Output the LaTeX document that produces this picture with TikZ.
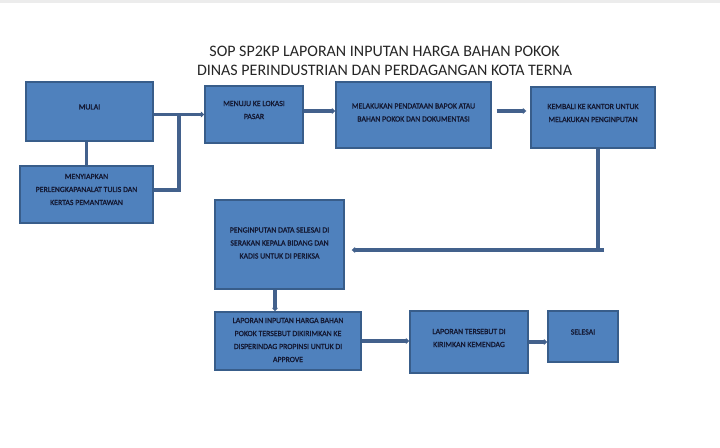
\documentclass[tikz,border=0pt]{standalone}
\usepackage{fontspec}
\setmainfont{Carlito}
\newfontfamily\boxfont[FakeBold=1.3]{Carlito}
\usetikzlibrary{arrows.meta}
\definecolor{boxfill}{HTML}{4F81BD}
\definecolor{boxline}{HTML}{385D8A}
\definecolor{conn}{HTML}{43618C}
\definecolor{txtc}{HTML}{141933}
\definecolor{topband}{HTML}{ECECEC}
\tikzset{
  box/.style={draw=boxline, line width=1.4pt, fill=boxfill, rectangle, inner sep=0pt},
  txt/.style={text=txtc, font=\boxfont\fontsize{7.8}{13}\selectfont, align=center, inner sep=0pt},
  ttl/.style={text=black!85, font=\fontsize{16}{19}\selectfont, inner sep=0pt},
  conline/.style={draw=conn, line width=3.2pt},
  conarrow/.style={conline, -{Triangle[length=3.5pt,width=6pt]}},
}
\begin{document}
\begin{tikzpicture}[x=1pt,y=-1pt]
\useasboundingbox (0,0) rectangle (720,447);
\fill[white] (0,0) rectangle (720,447);
\fill[topband] (0,0) rectangle (720,2.5);

% title
\node[ttl] (t1) at (384.5,51) {SOP SP2KP LAPORAN INPUTAN HARGA BAHAN POKOK};
\node[ttl] (t2) at (384.5,70) {DINAS PERINDUSTRIAN DAN PERDAGANGAN KOTA TERNA};

% boxes
\node[box, minimum width=127pt, minimum height=59pt] (mulai) at (89.5,111.5) {};
\node[box, minimum width=133pt, minimum height=57pt] (siap) at (86.5,194.5) {};
\node[box, minimum width=98pt, minimum height=57pt] (menuju) at (254,114.5) {};
\node[box, minimum width=155pt, minimum height=66pt] (data) at (413.5,115) {};
\node[box, minimum width=124pt, minimum height=61pt] (kembali) at (593,117.5) {};
\node[box, minimum width=129pt, minimum height=89pt] (input) at (279.5,244.5) {};
\node[box, minimum width=146pt, minimum height=58pt] (lap1) at (288,341) {};
\node[box, minimum width=118pt, minimum height=62pt] (lap2) at (469,342) {};
\node[box, minimum width=70pt, minimum height=51pt] (selesai) at (583,336.5) {};

% texts
\node[txt] (tmulai) at (89.5,107) {MULAI};
\node[txt] (tsiap) at (86.5,189.5) {MENYIAPKAN\\PERLENGKAPANALAT TULIS DAN\\KERTAS PEMANTAWAN};
\node[txt] (tmenuju) at (254,110) {MENUJU KE LOKASI\\PASAR};
\node[txt] (tdata) at (413.5,112.5) {MELAKUKAN PENDATAAN BAPOK ATAU\\BAHAN POKOK DAN DOKUMENTASI};
\node[txt] (tkembali) at (593,113) {KEMBALI KE KANTOR UNTUK\\MELAKUKAN PENGINPUTAN};
\node[txt] (tinput) at (279.5,243) {PENGINPUTAN DATA SELESAI DI\\SERAKAN KEPALA BIDANG DAN\\KADIS UNTUK DI PERIKSA};
\node[txt] (tlap1) at (288,340) {LAPORAN INPUTAN HARGA BAHAN\\POKOK TERSEBUT DIKIRIMKAN KE\\DISPERINDAG PROPINSI UNTUK DI\\APPROVE};
\node[txt] (tlap2) at (469,338) {LAPORAN TERSEBUT DI\\KIRIMKAN KEMENDAG};
\node[txt] (tselesai) at (583,332) {SELESAI};

% connectors
\coordinate (j) at (179,115);
\coordinate (jb) at (179,190);
\coordinate (k) at (598,250);
\draw[conline] (mulai.south -| siap.north) -- (siap.north);
\draw[conarrow] (mulai.east |- menuju.west) -- (menuju.west);
\draw[conline] ([yshift=4.5pt]siap.east) -- (jb) -- (j);
\draw[conarrow] ([yshift=3.5pt]menuju.east) -- ([yshift=3.5pt]menuju.east -| data.west);
\draw[conarrow, shorten <=5pt, shorten >=4pt] ([yshift=4pt]data.east) -- ([yshift=4pt]data.east -| kembali.west);
\draw[conline] (kembali.south -| k) -- (k);
\draw[conarrow, shorten >=7pt] ([xshift=6pt]k) -- (k -| input.east);
\draw[conarrow] ([xshift=-4.5pt]input.south) -- ([xshift=-4.5pt]input.south |- lap1.north);
\draw[conarrow] (lap1.east) -- (lap1.east -| lap2.west);
\draw[conarrow] (lap2.east) -- (lap2.east -| selesai.west);
\end{tikzpicture}
\end{document}
